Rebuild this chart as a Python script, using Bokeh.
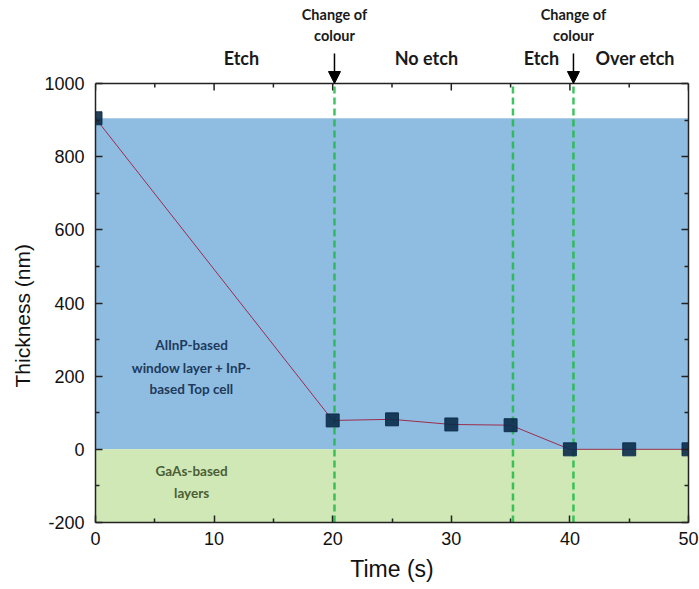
import math
from bokeh.plotting import figure
from bokeh.models import (Range1d, LinearAxis, Label, Arrow, NormalHead, Span,
                          FixedTicker, CustomJSTickFormatter, Title)
from bokeh.embed import file_html
from bokeh.resources import INLINE

# data
time_s = [0, 20, 25, 30, 35, 40, 45, 50]
thickness_nm = [905, 79, 82, 68, 66, 0, 0, 0]

# layer bands
band_bottom = [0, -200]
band_top = [905, 0]
band_colors = ["#8fbde1", "#cfe8b5"]

# event lines
event_times = [20.15, 35.2, 40.3]
arrow_times = [20.15, 40.3]

# phase labels
phase_labels = ["Etch", "No etch", "Etch", "Over etch"]
phase_x = [12.3, 27.9, 37.6, 45.5]

x_ticks = [0, 10, 20, 30, 40, 50]
x_minor = [5, 15, 25, 35, 45]
y_ticks = [-200, 0, 200, 400, 600, 800, 1000]
y_minor = [-100, 100, 300, 500, 700, 900]

FONT = "Liberation Sans"
BOLD = "Lato"
AX = "#222222"

y_lo, y_hi = y_ticks[0], y_ticks[-1]

p = figure(width=699, height=589, output_backend="svg", toolbar_location=None,
           x_range=Range1d(0, 50), y_range=Range1d(y_lo, 1227),
           min_border_left=95, min_border_right=11, min_border_top=0, min_border_bottom=67)
p.background_fill_color = "white"
p.border_fill_color = "white"
p.grid.visible = False
p.outline_line_color = None

p.quad(left=[time_s[0]] * 2, right=[time_s[-1]] * 2, bottom=band_bottom, top=band_top,
       fill_color=band_colors, line_color=None)

fmt = CustomJSTickFormatter(code="return tick.toString();")


def style_ticks(ax):
    ax.axis_line_color = AX
    ax.axis_line_width = 1.5
    ax.major_tick_in = 7
    ax.major_tick_out = 0
    ax.minor_tick_in = 4
    ax.minor_tick_out = 0
    ax.major_tick_line_color = AX
    ax.minor_tick_line_color = AX
    ax.major_tick_line_width = 1.5
    ax.minor_tick_line_width = 1.5


for ax in [p.xaxis[0], p.yaxis[0]]:
    style_ticks(ax)
    ax.formatter = fmt
    ax.major_label_text_font = FONT
    ax.major_label_text_font_size = "18px"
    ax.major_label_text_color = "#111111"
    ax.axis_label_text_font = FONT
    ax.axis_label_text_font_style = "normal"
    ax.axis_label_text_color = "#111111"

p.xaxis[0].axis_label_text_font_size = "23px"
p.xaxis[0].ticker = FixedTicker(ticks=x_ticks, minor_ticks=x_minor)
p.yaxis[0].ticker = FixedTicker(ticks=y_ticks, minor_ticks=y_minor)
p.yaxis[0].bounds = (y_lo, y_hi)
p.xaxis[0].axis_label = "Time (s)"
p.xaxis[0].major_label_standoff = 9
p.yaxis[0].major_label_standoff = 11
p.xaxis[0].axis_label_standoff = 8

# y axis title, placed alongside the -200..1000 part of the frame
p.add_layout(Title(text="Thickness (nm)", align="left", offset=135, standoff=16,
                   text_font=FONT, text_font_style="normal", text_font_size="21px",
                   text_color="#111111"), "left")

right_ax = LinearAxis(ticker=FixedTicker(ticks=y_ticks, minor_ticks=y_minor),
                      major_label_text_alpha=0, major_label_text_font_size="0px",
                      major_label_standoff=0, bounds=(y_lo, y_hi))
style_ticks(right_ax)
p.add_layout(right_ax, "right")

# top frame edge and inward ticks
p.add_layout(Span(location=y_hi, dimension="width", line_color=AX, line_width=1.5))
p.ray(x=x_ticks, y=[y_hi] * len(x_ticks), length=7, length_units="screen",
      angle=-math.pi / 2, line_color=AX, line_width=1.5)
p.ray(x=x_minor, y=[y_hi] * len(x_minor), length=4, length_units="screen",
      angle=-math.pi / 2, line_color=AX, line_width=1.5)

# event lines
p.segment(x0=event_times, y0=[y_lo] * 3, x1=event_times, y1=[y_hi] * 3,
          line_color="#1fba45", line_alpha=0.85, line_width=2.5, line_dash="7 4")

p.line(time_s, thickness_nm, line_color="#9b2d4d", line_width=1)
p.scatter(time_s, thickness_nm, marker="square", size=13, fill_color="#0b2b4a",
          line_color="#0b2b4a", fill_alpha=0.9, line_alpha=0.9)

for txt, yv in zip(["AlInP-based", "window layer + InP-", "based Top cell"], [285, 222, 165]):
    p.add_layout(Label(x=8.1, y=yv, text=txt, text_font=BOLD, text_font_style="bold",
                       text_font_size="13.5px", text_align="center", text_baseline="middle",
                       text_color="#1e3a5c"))
for txt, yv in zip(["GaAs-based", "layers"], [-60, -120]):
    p.add_layout(Label(x=8.1, y=yv, text=txt, text_font=BOLD, text_font_style="bold",
                       text_font_size="13.5px", text_align="center", text_baseline="middle",
                       text_color="#4b5e35"))

# annotations above the data area
for t in arrow_times:
    p.add_layout(Arrow(x_start=t, y_start=1082, x_end=t, y_end=y_hi,
                       line_color="black", line_width=1.5,
                       end=NormalHead(size=12, fill_color="black", line_color="black")))

for lab, x in zip(phase_labels, phase_x):
    p.add_layout(Label(x=x, y=1071, text=lab, text_font=BOLD, text_font_style="bold",
                       text_font_size="18px", text_align="center", text_baseline="middle",
                       text_color="#1a1a1a"))

for t in arrow_times:
    p.add_layout(Label(x=t, y=1189, text="Change of", text_font=BOLD, text_font_style="bold",
                       text_font_size="14.5px", text_align="center", text_baseline="middle",
                       text_color="#1a1a1a"))
    p.add_layout(Label(x=t, y=1131, text="colour", text_font=BOLD, text_font_style="bold",
                       text_font_size="14.5px", text_align="center", text_baseline="middle",
                       text_color="#1a1a1a"))

open("out.html", "w").write(file_html(p, INLINE))
